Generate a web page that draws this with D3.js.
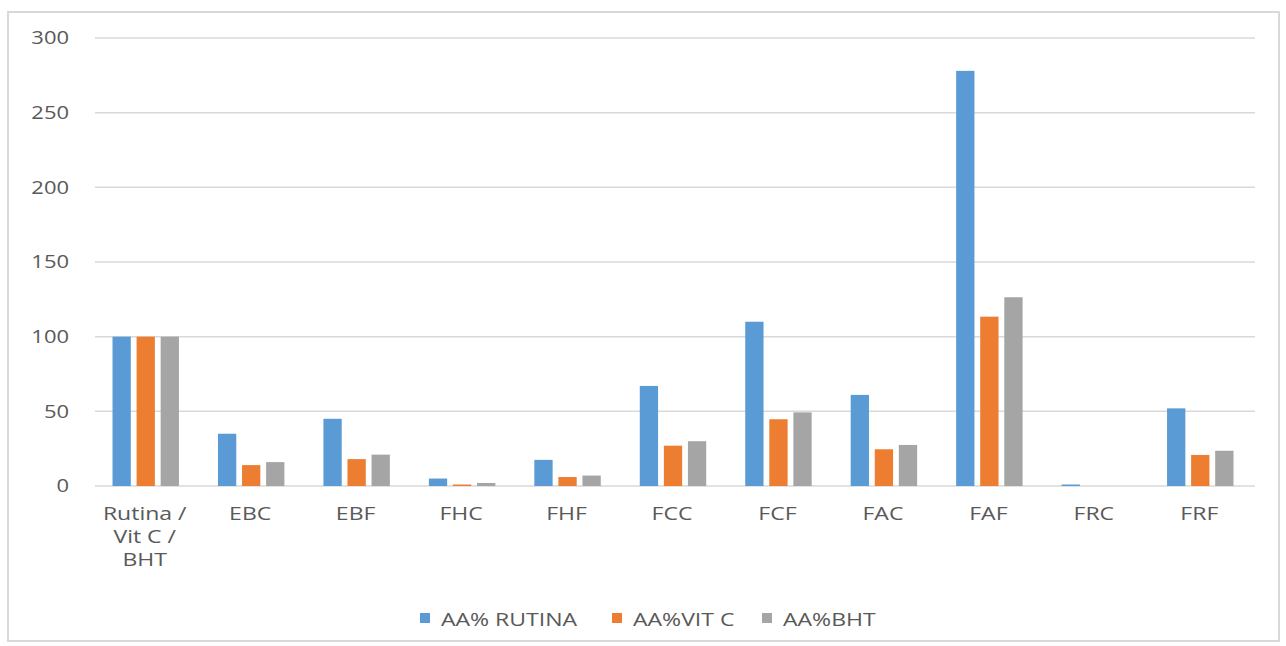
<!DOCTYPE html>
<html>
<head>
<meta charset="utf-8">
<script src="https://cdn.jsdelivr.net/npm/d3@7"></script>
<style>
  html, body { margin: 0; padding: 0; background: #fff; }
  svg { display: block; font-family: "Open Sans", "Noto Sans", sans-serif; }
</style>
</head>
<body>
<svg id="chart" width="1286" height="646"></svg>
<script>
// Antioxidant activity (%) per extract, relative to each reference standard
const categories = [["Rutina /", "Vit C /", "BHT"], ["EBC"], ["EBF"], ["FHC"], ["FHF"], ["FCC"], ["FCF"], ["FAC"], ["FAF"], ["FRC"], ["FRF"]];
const seriesNames = ["AA% RUTINA", "AA%VIT C", "AA%BHT"];
const rutina = [100, 35, 45, 5, 17.5, 67, 110, 61, 278, 1, 52];
const vitC   = [100, 14, 18, 1, 6, 27, 44.7, 24.6, 113.4, 0, 20.8];
const bht    = [100, 16, 21, 2, 7, 30, 49.3, 27.5, 126.4, 0, 23.6];
const yTicks = [0, 50, 100, 150, 200, 250, 300];
const colors = ["#5B9BD5", "#ED7D31", "#A5A5A5"];

const svg = d3.select("#chart");
const gridLeft = 95, gridRight = 1255;
const yTop = 38, yBot = 486;
const textColor = "#595959";
const fontSize = 18;
const stretch = 1.28; // wide lettering of the axis and legend texts

// outer chart frame
svg.append("rect")
  .attr("x", 8).attr("y", 12).attr("width", 1271).attr("height", 629)
  .attr("fill", "#fff").attr("stroke", "#D9D9D9").attr("stroke-width", 2);

const keys = categories.map((c, i) => i);
const x = d3.scaleBand().domain(keys).range([gridLeft - 2, gridRight - 2]).paddingInner(0.37).paddingOuter(0.185);
const xs = d3.scaleBand().domain([0, 1, 2]).range([0, x.bandwidth()]).paddingInner(0.24);
const y = d3.scaleLinear().domain([0, 300]).range([yBot, yTop]);

// gridlines
svg.append("g").selectAll("line").data(yTicks).join("line")
  .attr("x1", gridLeft).attr("x2", gridRight)
  .attr("y1", d => y(d)).attr("y2", d => y(d))
  .attr("stroke", "#D9D9D9").attr("stroke-width", 1.5);

// y-axis labels
const gy = svg.append("g");
gy.selectAll("text").data(yTicks).join("text")
  .attr("transform", d => `translate(69,${y(d)}) scale(1.22,1)`)
  .attr("dy", "0.35em")
  .attr("text-anchor", "end")
  .attr("fill", textColor).attr("font-size", fontSize)
  .text(d => d3.format("d")(d));

// bars
const series = [rutina, vitC, bht];
const groups = svg.append("g").selectAll("g").data(keys).join("g")
  .attr("transform", i => `translate(${x(i)},0)`);
groups.selectAll("rect").data(i => series.map((s, k) => ({ k, v: s[i] }))).join("rect")
  .attr("x", d => xs(d.k))
  .attr("width", xs.bandwidth())
  .attr("y", d => y(d.v))
  .attr("height", d => yBot - y(d.v))
  .attr("fill", d => colors[d.k]);

// category labels
const gx = svg.append("g");
keys.forEach(i => {
  const cx = x(i) + x.bandwidth() / 2 - 1;
  const t = gx.append("text")
    .attr("transform", `translate(${cx},520) scale(${stretch},1)`)
    .attr("text-anchor", "middle")
    .attr("fill", textColor)
    .attr("font-size", fontSize);
  categories[i].forEach((line, j) => {
    t.append("tspan").attr("x", 0).attr("dy", j === 0 ? 0 : 23).text(line);
  });
});

// legend
const legendItems = [
  { name: seriesNames[0], x: 420 },
  { name: seriesNames[1], x: 612 },
  { name: seriesNames[2], x: 762 }
];
const lg = svg.append("g");
legendItems.forEach((d, k) => {
  lg.append("rect").attr("x", d.x).attr("y", 613).attr("width", 10).attr("height", 10).attr("fill", colors[k]);
  lg.append("text")
    .attr("transform", `translate(${d.x + 21},626) scale(${stretch},1)`)
    .attr("fill", textColor).attr("font-size", fontSize)
    .text(d.name);
});
</script>
</body>
</html>
